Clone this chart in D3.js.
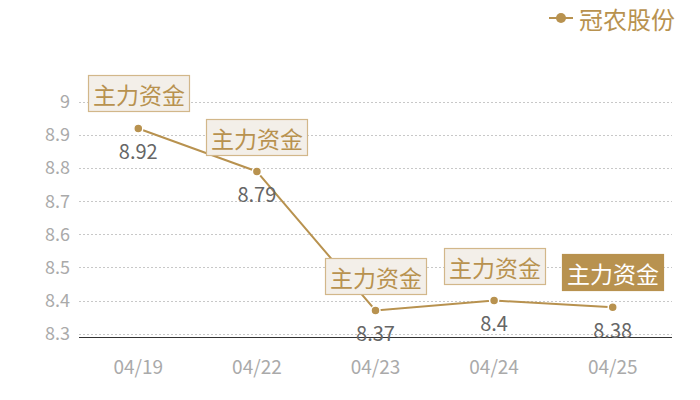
<!DOCTYPE html>
<html><head><meta charset="utf-8">
<script src="https://cdn.jsdelivr.net/npm/d3@7/dist/d3.min.js"></script>
<style>body{margin:0;background:#fff}svg{display:block}text{font-family:"Noto Sans CJK SC","Noto Sans",sans-serif}</style>
</head><body><svg id="c" width="700" height="400"></svg>
<script>
const categories = ["04/19","04/22","04/23","04/24","04/25"];
const values = [8.92, 8.79, 8.37, 8.4, 8.38];
const yTicks = [8.3, 8.4, 8.5, 8.6, 8.7, 8.8, 8.9, 9];
const seriesName = "冠农股份";
const markLabel = "主力资金";

const gold = "#b8924f";
const svg = d3.select("#c");
const pL = 79, pR = 672, pT = 102, pB = 337;
const x = d3.scaleBand().domain(categories).range([pL, pR]);
const y = d3.scaleLinear().domain([8.29, 9.0]).range([pB, pT]);
const cx = d => x(d) + x.bandwidth() / 2;

// grid
svg.append("g").selectAll("line").data(yTicks).join("line")
  .attr("x1", pL).attr("x2", pR)
  .attr("y1", d => Math.round(y(d)) + 0.5).attr("y2", d => Math.round(y(d)) + 0.5)
  .attr("stroke", "#c8c8c8").attr("stroke-dasharray", "2,2");

// y axis labels
const yAxis = d3.axisLeft(y).tickValues(yTicks).tickSize(0).tickPadding(9).tickFormat(d3.format("~g"));
svg.append("g").attr("transform", `translate(${pL},0)`).call(yAxis)
  .call(g => g.select(".domain").remove())
  .call(g => g.selectAll("text").attr("fill", "#aaa").attr("font-size", 18));

// x axis
const xAxis = d3.axisBottom(x).tickSize(0).tickPadding(24);
svg.append("g").attr("transform", `translate(0,${pB})`).call(xAxis)
  .call(g => g.select(".domain").attr("stroke", "#333").attr("d", `M${pL},0.5H${pR}`))
  .call(g => g.selectAll("text").attr("fill", "#aaa").attr("font-size", 19));

// line
const pts = categories.map((c, i) => ({c, v: values[i]}));
svg.append("path").datum(pts)
  .attr("fill", "none").attr("stroke", gold).attr("stroke-width", 2)
  .attr("d", d3.line().x(d => cx(d.c)).y(d => y(d.v)));

svg.append("g").selectAll("circle").data(pts).join("circle")
  .attr("cx", d => cx(d.c)).attr("cy", d => y(d.v)).attr("r", 4.5)
  .attr("fill", gold).attr("stroke", "#fff").attr("stroke-width", 1.5);

// value labels
svg.append("g").selectAll("text").data(pts).join("text")
  .attr("x", d => cx(d.c)).attr("y", d => y(d.v) + 22)
  .attr("text-anchor", "middle").attr("dominant-baseline", "central")
  .attr("fill", "#666").attr("font-size", 20)
  .text(d => d3.format("~g")(d.v));

// mark boxes
const bw = 101, bh = 36;
const mk = svg.append("g").selectAll("g").data(pts).join("g")
  .attr("transform", d => `translate(${Math.round(cx(d.c) - bw / 2)},${Math.round(y(d.v) - 17 - bh)})`);
mk.append("rect").attr("x", 0.5).attr("y", 0.5).attr("width", bw).attr("height", bh)
  .attr("fill", (d, i) => i === pts.length - 1 ? gold : "#f3efe9")
  .attr("stroke", (d, i) => i === pts.length - 1 ? gold : "#d2b78a").attr("stroke-width", 1.2);
mk.append("text").attr("x", bw / 2 + 0.5).attr("y", bh / 2 + 0.5)
  .attr("text-anchor", "middle").attr("dominant-baseline", "central")
  .attr("font-size", 23)
  .attr("fill", (d, i) => i === pts.length - 1 ? "#fff" : gold)
  .text(markLabel);

// legend
const lg = svg.append("g").attr("transform", "translate(549,18)");
lg.append("line").attr("x1", 0).attr("x2", 24).attr("y1", 0).attr("y2", 0).attr("stroke", gold).attr("stroke-width", 2);
lg.append("circle").attr("cx", 12).attr("cy", 0).attr("r", 5).attr("fill", gold);
lg.append("text").attr("x", 30).attr("y", 0).attr("dominant-baseline", "central")
  .attr("fill", gold).attr("font-size", 24).text(seriesName);
</script></body></html>
